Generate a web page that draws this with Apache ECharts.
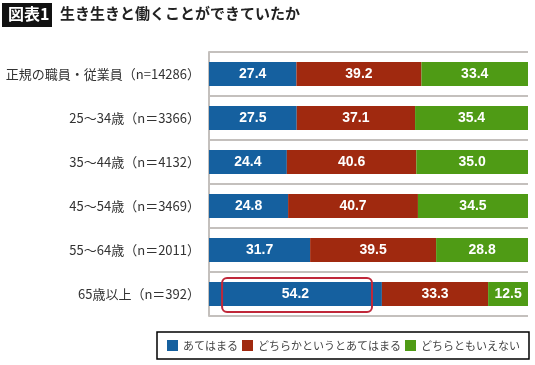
<!DOCTYPE html>
<html><head><meta charset="utf-8">
<script src="https://cdn.jsdelivr.net/npm/echarts@6/dist/echarts.min.js"></script>
<style>html,body{margin:0;padding:0;background:#fff}#c{width:535px;height:365px}</style>
</head><body><div id="c"></div>
<script>
const categories = ["正規の職員・従業員（n=14286）","25〜34歳（n＝3366）","35〜44歳（n＝4132）","45〜54歳（n＝3469）","55〜64歳（n＝2011）","65歳以上（n＝392）"];
const seriesNames = ["あてはまる","どちらかというとあてはまる","どちらともいえない"];
const applies = [27.4,27.5,24.4,24.8,31.7,54.2];
const somewhatApplies = [39.2,37.1,40.6,40.7,39.5,33.3];
const neither = [33.4,35.4,35.0,34.5,28.8,12.5];
const colors = ["#15609f","#a0290f","#4f9b15"];
const FONT = "'Noto Sans CJK JP','Noto Sans',sans-serif";

const chart = echarts.init(document.getElementById('c'), null, {renderer:'canvas'});
const mk = (name, data, color) => ({
  name, type:'bar', stack:'s', data, barWidth:24,
  itemStyle:{color},
  label:{show:true, position:'inside', color:'#fff', fontWeight:'bold', fontSize:14,
    fontFamily:"'Liberation Sans',Arial,sans-serif", formatter:p=>p.value.toFixed(1)}
});
const titleGraphics = [
  {type:'rect', left:2, top:3, shape:{width:50,height:24}, style:{fill:'#111'}},
  {type:'text', left:8, top:6, style:{text:'図表1', fill:'#fff', font:"bold 16px 'Noto Sans CJK JP'"}},
  {type:'text', left:60, top:6, style:{text:'生き生きと働くことができていたか', fill:'#222', font:"bold 15px 'Noto Sans CJK JP'"}}
];
chart.setOption({
  animation:false,
  textStyle:{fontFamily:FONT},
  grid:{left:209, right:7, top:52, bottom:49},
  xAxis:{type:'value', min:0, max:100, show:false},
  yAxis:{type:'category', data:categories, inverse:true,
    axisLine:{show:true, lineStyle:{color:'#c4c0bd', width:2}},
    axisTick:{show:false},
    splitLine:{show:true, interval:0, lineStyle:{color:'#c4c0bd', width:2}},
    axisLabel:{color:'#333', fontSize:13, margin:9, fontFamily:FONT}
  },
  legend:{left:157, top:332, orient:'horizontal', itemWidth:11, itemHeight:11, itemGap:4,
    padding:[8,9,8,10], borderColor:'#000', borderWidth:1.5,
    textStyle:{fontSize:11, color:'#444', fontFamily:FONT},
    data:seriesNames.map(n=>({name:n, icon:'rect'}))},
  series:[mk(seriesNames[0],applies,colors[0]), mk(seriesNames[1],somewhatApplies,colors[1]), mk(seriesNames[2],neither,colors[2])],
  graphic:titleGraphics
});
// highlight box around the last category's first segment
const last = categories.length-1;
const p1 = chart.convertToPixel({gridIndex:0}, [4.1, last]);
const p2 = chart.convertToPixel({gridIndex:0}, [51.1, last]);
const band = chart.convertToPixel({gridIndex:0}, [0, 1])[1] - chart.convertToPixel({gridIndex:0}, [0, 0])[1];
const h = band*0.77;
chart.setOption({graphic:titleGraphics.concat([
  {type:'rect', shape:{x:p1[0], y:p1[1]-h/2+1, width:p2[0]-p1[0], height:h, r:5},
   style:{fill:'none', stroke:'#c0283a', lineWidth:2}, z:10}
])}, {replaceMerge:['graphic']});
</script></body></html>
